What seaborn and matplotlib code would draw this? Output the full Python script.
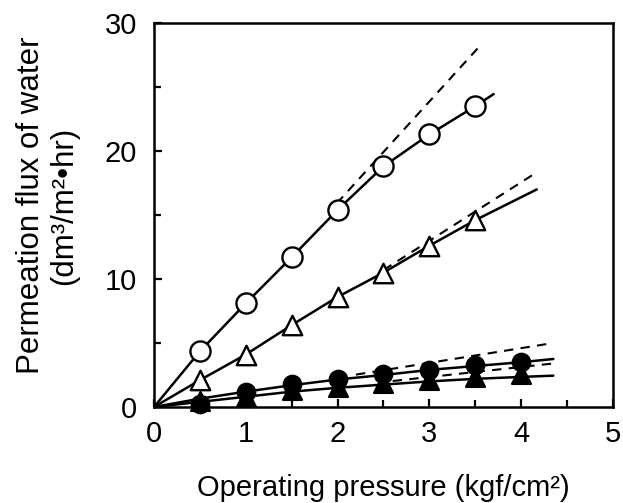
import matplotlib
matplotlib.use("Agg")
import matplotlib.pyplot as plt
import seaborn as sns
from matplotlib.ticker import MultipleLocator

# ---- data ----
pressure = [0.5, 1.0, 1.5, 2.0, 2.5, 3.0, 3.5, 4.0]

open_circle_flux = [4.35, 8.1, 11.7, 15.4, 18.8, 21.3, 23.5]
open_triangle_flux = [2.1, 4.1, 6.4, 8.6, 10.5, 12.6, 14.6]
filled_circle_flux = [0.2, 1.2, 1.8, 2.2, 2.55, 2.9, 3.25, 3.55]
filled_triangle_flux = [0.45, 0.8, 1.3, 1.55, 1.85, 2.1, 2.35, 2.6]

# solid curves (fitted)
oc_line_x = [0, 0.5, 1.0, 1.5, 2.0, 2.5, 3.0, 3.5, 3.7]
oc_line_y = [0, 4.35, 8.1, 11.7, 15.4, 18.8, 21.3, 23.5, 24.45]
ot_line_x = [0, 0.5, 1.0, 1.5, 2.0, 2.5, 3.0, 3.5, 4.17]
ot_line_y = [0, 2.1, 4.1, 6.4, 8.6, 10.5, 12.6, 14.6, 17.0]
fc_line_x = [0, 0.5, 1.0, 1.5, 2.0, 2.5, 3.0, 3.5, 4.0, 4.35]
fc_line_y = [0, 0.65, 1.2, 1.7, 2.15, 2.5, 2.9, 3.2, 3.5, 3.75]
ft_line_x = [0, 1.0, 1.5, 2.0, 2.5, 3.0, 3.5, 4.0, 4.35]
ft_line_y = [0, 0.8, 1.2, 1.5, 1.75, 2.0, 2.2, 2.35, 2.45]

# dashed linear extrapolations
oc_dash_x = [1.99, 3.53]
oc_dash_y = [15.9, 28.05]
ot_dash_x = [2.5, 4.14]
ot_dash_y = [10.7, 18.2]
fc_dash_x = [2.2, 4.35]
fc_dash_y = [2.53, 5.0]
ft_dash_x = [2.6, 4.35]
ft_dash_y = [2.03, 3.4]

x_ticks = [0, 1, 2, 3, 4, 5]
y_ticks = [0, 10, 20, 30]
x_label = "Operating pressure (kgf/cm\u00b2)"
y_label = "Permeation flux of water\n(dm\u00b3/m\u00b2\u2022hr)"

# ---- plotting ----
sns.set_theme(style="ticks")
plt.rcParams["font.family"] = ["Liberation Sans", "DejaVu Sans"]

fig = plt.figure(figsize=(6.23, 5.03), dpi=100)
ax = fig.add_axes([154 / 623, (503 - 407) / 503, 459 / 623, 384 / 503])

lw = 1.8
for lx, ly in [(oc_line_x, oc_line_y), (ot_line_x, ot_line_y),
               (fc_line_x, fc_line_y), (ft_line_x, ft_line_y)]:
    sns.lineplot(x=lx, y=ly, ax=ax, color="black", lw=lw, sort=False,
                 estimator=None, zorder=2)
for lx, ly in [(oc_dash_x, oc_dash_y), (ot_dash_x, ot_dash_y),
               (fc_dash_x, fc_dash_y), (ft_dash_x, ft_dash_y)]:
    sns.lineplot(x=lx, y=ly, ax=ax, color="black", lw=1.5, sort=False,
                 estimator=None, zorder=2, linestyle=(0, (4.5, 3.5)))

def scatter(xs, ys, marker, size, face):
    sns.scatterplot(x=xs, y=ys, ax=ax, marker=marker, s=size ** 2,
                    facecolor=face, edgecolor="black", linewidth=1.7,
                    zorder=4, clip_on=False, legend=False)

scatter(pressure[:len(filled_triangle_flux)], filled_triangle_flux, "^", 13.5, "black")
scatter(pressure[:len(filled_circle_flux)], filled_circle_flux, "o", 12.5, "black")
scatter(pressure[:len(open_triangle_flux)], open_triangle_flux, "^", 14, "white")
scatter(pressure[:len(open_circle_flux)], open_circle_flux, "o", 14.5, "white")

ax.set_xlim(0, 5)
ax.set_ylim(0, 30)
ax.set_xticks(x_ticks)
ax.set_yticks(y_ticks)
ax.xaxis.set_minor_locator(MultipleLocator(0.5))
ax.yaxis.set_minor_locator(MultipleLocator(5))
ax.tick_params(which="both", direction="in", width=1.6, color="black",
               labelsize=21, labelcolor="black")
ax.tick_params(which="major", length=6)
ax.tick_params(axis="x", which="major", pad=9)
ax.tick_params(axis="y", which="major", pad=12)
ax.tick_params(which="minor", length=5)
for sp in ax.spines.values():
    sp.set_visible(True)
    sp.set_linewidth(1.8)
    sp.set_color("black")

ax.set_xlabel(x_label, fontsize=21, color="black")
ax.set_ylabel(y_label, fontsize=22.5, color="black", linespacing=1.12)
ax.xaxis.set_label_coords(0.5, -0.175)
ax.yaxis.set_label_coords(-0.163, 0.525)

fig.savefig("out.png", dpi=100)
